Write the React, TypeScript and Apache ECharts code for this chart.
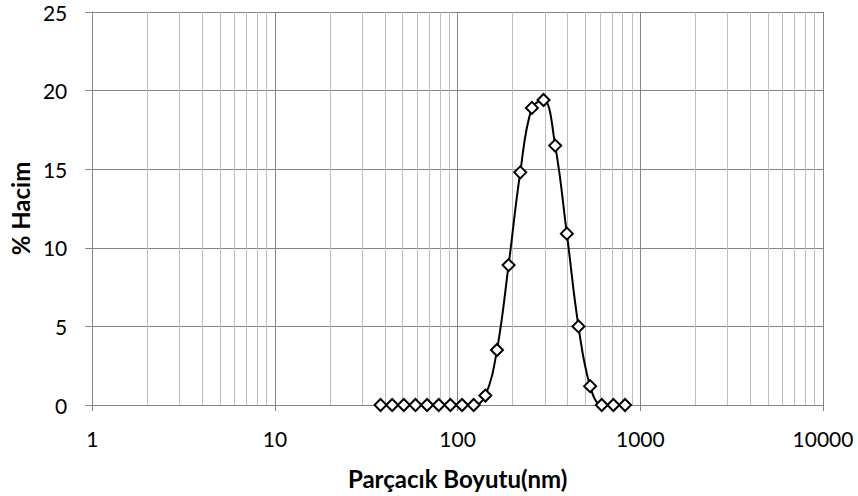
import React, { useEffect, useRef } from "react";
import * as echarts from "echarts";

const sizes = [37.84, 43.82, 50.75, 58.77, 68.06, 78.82, 91.28, 105.7, 122.4, 141.8, 164.2, 190.1, 220.2, 255.0, 295.3, 342.0, 396.1, 458.7, 531.2, 615.1, 712.4, 825.0];
const volumes = [0, 0, 0, 0, 0, 0, 0, 0, 0, 0.6, 3.5, 8.9, 14.8, 18.9, 19.4, 16.5, 10.9, 5.0, 1.2, 0, 0, 0];
const minorGridValues = [2, 3, 4, 5, 6, 7, 8, 9, 20, 30, 40, 50, 60, 70, 80, 90, 200, 300, 400, 500, 600, 700, 800, 900, 2000, 3000, 4000, 5000, 6000, 7000, 8000, 9000];

const FONT = "Lato, 'Open Sans', sans-serif";

export default function App() {
  const ref = useRef<HTMLDivElement>(null);
  useEffect(() => {
    if (!ref.current) return;
    const chart = echarts.init(ref.current, null, { renderer: "svg" });
    chart.setOption({
      animation: false,
      backgroundColor: "#ffffff",
      grid: { left: 92, right: 35, top: 12, bottom: 91, containLabel: false },
      xAxis: {
        type: "log",
        logBase: 10,
        min: 1,
        max: 10000,
        name: "Parçacık Boyutu(nm)",
        nameLocation: "middle",
        nameGap: 61,
        nameTextStyle: { fontFamily: FONT, fontSize: 24, fontWeight: "bold", color: "#000" },
        axisLine: { show: true, lineStyle: { color: "#868686", width: 1 } },
        axisTick: { show: true, length: 6, lineStyle: { color: "#868686" } },
        axisLabel: {
          fontFamily: FONT,
          fontSize: 21,
          color: "#000",
          margin: 23,
          formatter: (v: number) => String(Math.round(v)),
        },
        splitLine: { show: true, lineStyle: { color: "#868686", width: 1 } },
        minorTick: { show: false },
        minorSplitLine: { show: false },
      },
      yAxis: {
        type: "value",
        min: 0,
        max: 25,
        interval: 5,
        name: "% Hacim",
        nameLocation: "middle",
        nameGap: 54,
        nameTextStyle: { fontFamily: FONT, fontSize: 24, fontWeight: "bold", color: "#000" },
        axisLine: { show: true, lineStyle: { color: "#868686", width: 1 } },
        axisTick: { show: true, length: 7, lineStyle: { color: "#868686" } },
        axisLabel: { fontFamily: FONT, fontSize: 21, color: "#000", margin: 25 },
        splitLine: { show: true, lineStyle: { color: "#868686", width: 1 } },
      },
      series: [
        {
          type: "line",
          data: [],
          silent: true,
          z: 1,
          markLine: {
            silent: true,
            symbol: ["none", "none"],
            label: { show: false },
            animation: false,
            lineStyle: { color: "#bdbdbd", type: "solid", width: 1 },
            data: minorGridValues.map((v) => ({ xAxis: v })),
          },
        },
        {
          type: "line",
          z: 5,
          data: sizes.map((s, i) => [s, volumes[i]]),
          smooth: 0.4,
          symbol: "diamond",
          symbolSize: 12,
          showAllSymbol: true,
          lineStyle: { color: "#000", width: 2 },
          itemStyle: { color: "#ffffff", borderColor: "#000", borderWidth: 2 },
        },
      ],
    });
    return () => chart.dispose();
  }, []);
  return <div ref={ref} style={{ width: 858, height: 496, position: "absolute", left: 0, top: 0 }} />;
}
